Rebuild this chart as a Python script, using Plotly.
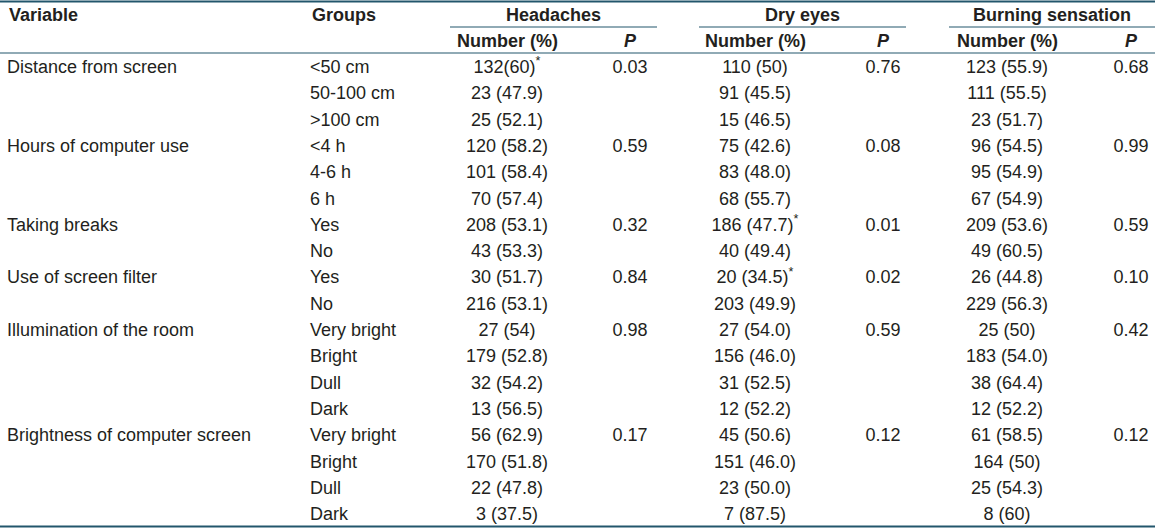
import plotly.graph_objects as go

# table content
variables = ["Distance from screen", "", "", "Hours of computer use", "", "",
             "Taking breaks", "", "Use of screen filter", "",
             "Illumination of the room", "", "", "",
             "Brightness of computer screen", "", "", ""]
groups = ["<50 cm", "50-100 cm", ">100 cm", "<4 h", "4-6 h", "6 h", "Yes", "No", "Yes", "No",
          "Very bright", "Bright", "Dull", "Dark", "Very bright", "Bright", "Dull", "Dark"]
headache_n = ["132(60)<sup>*</sup>", "23 (47.9)", "25 (52.1)", "120 (58.2)", "101 (58.4)", "70 (57.4)",
              "208 (53.1)", "43 (53.3)", "30 (51.7)", "216 (53.1)", "27 (54)", "179 (52.8)",
              "32 (54.2)", "13 (56.5)", "56 (62.9)", "170 (51.8)", "22 (47.8)", "3 (37.5)"]
headache_p = ["0.03", "", "", "0.59", "", "", "0.32", "", "0.84", "", "0.98", "", "", "", "0.17", "", "", ""]
dry_n = ["110 (50)", "91 (45.5)", "15 (46.5)", "75 (42.6)", "83 (48.0)", "68 (55.7)",
         "186 (47.7)<sup>*</sup>", "40 (49.4)", "20 (34.5)<sup>*</sup>", "203 (49.9)", "27 (54.0)", "156 (46.0)",
         "31 (52.5)", "12 (52.2)", "45 (50.6)", "151 (46.0)", "23 (50.0)", "7 (87.5)"]
dry_p = ["0.76", "", "", "0.08", "", "", "0.01", "", "0.02", "", "0.59", "", "", "", "0.12", "", "", ""]
burn_n = ["123 (55.9)", "111 (55.5)", "23 (51.7)", "96 (54.5)", "95 (54.9)", "67 (54.9)",
          "209 (53.6)", "49 (60.5)", "26 (44.8)", "229 (56.3)", "25 (50)", "183 (54.0)",
          "38 (64.4)", "12 (52.2)", "61 (58.5)", "164 (50)", "25 (54.3)", "8 (60)"]
burn_p = ["0.68", "", "", "0.99", "", "", "0.59", "", "0.10", "", "0.42", "", "", "", "0.12", "", "", ""]

outcomes = ["Headaches", "Dry eyes", "Burning sensation"]

W, H = 1155, 528
TXT = "#231f20"
RULE = "#22566c"
FONT = "Liberation Sans, Arial, sans-serif"
FS = 18

row0, step = 68.5, 26.3
ys = [row0 + i * step for i in range(len(groups))]

fig = go.Figure()

def col(x, texts, pos="middle center"):
    # skip the empty cells
    keep = [(y, t) for y, t in zip(ys, texts) if t]
    fig.add_trace(go.Scatter(x=[x] * len(keep), y=[k[0] for k in keep],
                             text=[k[1] for k in keep], mode="text",
                             textposition=pos, hoverinfo="skip",
                             textfont=dict(family=FONT, size=FS, color=TXT)))

col(7, variables, "middle right")
col(310, groups, "middle right")
col(507, headache_n)
col(630, headache_p)
col(755, dry_n)
col(883, dry_p)
col(1007, burn_n)
col(1131, burn_p)

# header rows
hdr = dict(font=dict(family=FONT, size=FS, color=TXT), showarrow=False, xref="x", yref="y")
fig.add_annotation(x=7, y=15, text="<b>Variable</b>", xanchor="left", **hdr)
fig.add_annotation(x=310, y=15, text="<b>Groups</b>", xanchor="left", **hdr)
spans = [(450, 657), (699, 906), (949, 1155)]
for name, (a, b) in zip(outcomes, spans):
    fig.add_annotation(x=(a + b) / 2, y=15, text="<b>" + name + "</b>", **hdr)
    fig.add_shape(type="line", x0=a, x1=b, y0=27, y1=27, xref="x", yref="y",
                  line=dict(color=RULE, width=1.2))
for xn, xp in [(507, 630), (755, 883), (1007, 1131)]:
    fig.add_annotation(x=xn, y=41, text="<b>Number (%)</b>", **hdr)
    fig.add_annotation(x=xp, y=41, text="<b><i>P</i></b>", **hdr)

# rules
for y, w in [(1.5, 2), (53, 1.2), (526.5, 2)]:
    fig.add_shape(type="line", x0=0, x1=W, y0=y, y1=y, xref="x", yref="y",
                  line=dict(color=RULE, width=w))

fig.update_layout(width=W, height=H, margin=dict(l=0, r=0, t=0, b=0),
                  paper_bgcolor="white", plot_bgcolor="white", showlegend=False)
fig.update_xaxes(range=[0, W], visible=False, fixedrange=True)
fig.update_yaxes(range=[H, 0], visible=False, fixedrange=True)

fig.write_html("out.html", config={"displayModeBar": False, "staticPlot": True},
               post_script="document.body.style.margin='0';document.body.style.overflow='hidden';")
